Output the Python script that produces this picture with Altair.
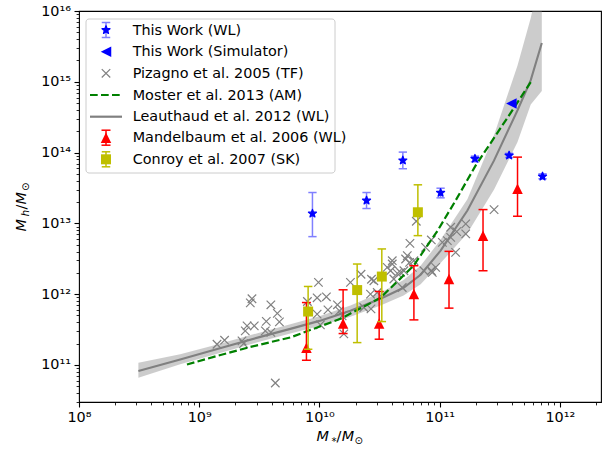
import math

import altair as alt
import numpy as np
import pandas as pd

# ------------------------------------------------------------------
# Data: all masses stored as log10(M / M_sun)
# ------------------------------------------------------------------

# This Work, weak lensing (with 1-sigma range on halo mass)
wl_log_mstar = [9.942, 10.392, 10.694, 11.008, 11.294, 11.578, 11.856]
wl_log_mh = [13.139, 13.323, 13.890, 13.432, 13.914, 13.960, 13.663]
wl_log_mh_lo = [12.813, 13.210, 13.772, 13.361, 13.870, 13.930, 13.630]
wl_log_mh_hi = [13.436, 13.436, 14.007, 13.497, 13.950, 13.990, 13.700]

# This Work, simulator
sim_log_mstar = [11.597]
sim_log_mh = [14.693]

# Pizagno et al. 2005, Tully-Fisher
piz_log_mstar = [
    9.148, 9.211, 9.356, 9.369, 9.383, 9.398, 9.458, 9.439, 9.425, 9.596,
    9.650, 9.667, 9.558, 9.596, 9.550, 9.633, 9.992, 9.900, 9.981, 10.058,
    10.071, 10.150, 10.167, 9.981, 10.008, 10.203, 10.258, 10.346, 10.433, 10.429,
    10.425, 10.369, 10.564, 10.606, 10.592, 10.648, 10.750, 10.717, 10.786, 10.939,
    10.453, 10.481, 10.619, 10.675, 10.731, 10.606, 10.806, 10.753, 10.883, 10.931,
    11.023, 11.092, 11.142, 11.217, 11.217, 11.092, 11.133, 10.967, 10.931, 10.869,
    11.453, 10.703, 10.189, 11.064, 10.689, 10.773,
]
piz_log_mh = [
    11.293, 11.350, 11.340, 11.302, 11.482, 11.552, 11.552, 11.935, 11.878, 11.850,
    11.729, 11.609, 11.616, 11.460, 11.482, 10.745, 12.166, 11.897, 11.949, 11.963,
    11.779, 11.850, 11.765, 11.718, 11.567, 11.439, 12.166, 12.282, 12.211, 11.793,
    12.001, 11.812, 12.378, 12.426, 12.331, 12.293, 12.449, 12.497, 12.473, 12.307,
    12.190, 12.024, 12.214, 12.307, 12.544, 12.473, 13.030, 12.718, 12.661, 12.766,
    12.732, 12.945, 12.884, 12.993, 12.851, 12.803, 12.591, 12.378, 12.331, 12.331,
    13.195, 12.331, 11.694, 12.756, 12.095, 12.378,
]

# Moster et al. 2013, abundance matching
moster_log_mstar = [8.898, 9.150, 9.425, 9.758, 10.175, 10.508, 10.783, 10.983,
                    11.133, 11.300, 11.567, 11.758]
moster_log_mh = [11.007, 11.128, 11.255, 11.389, 11.652, 11.949, 12.402, 12.898,
                 13.323, 13.819, 14.499, 14.994]

# Leauthaud et al. 2012, weak lensing (relation and uncertainty band)
leau_log_mstar = [8.494, 8.842, 9.150, 9.508, 9.758, 10.000, 10.258, 10.508,
                  10.700, 10.842, 11.008, 11.231, 11.453, 11.648, 11.758, 11.850]
leau_log_mh = [10.915, 11.078, 11.227, 11.397, 11.510, 11.623, 11.765, 11.935,
               12.091, 12.275, 12.615, 13.181, 13.890, 14.598, 15.023, 15.547]
leau_log_mh_hi = [11.03, 11.15, 11.29, 11.46, 11.575, 11.69, 11.84, 12.02,
                  12.20, 12.40, 12.77, 13.34, 14.25, 15.23, 15.90, 16.60]
leau_log_mh_lo = [10.82, 11.01, 11.16, 11.33, 11.445, 11.55, 11.68, 11.84,
                  11.98, 12.14, 12.44, 12.86, 13.48, 14.15, 14.68, 14.87]

# Mandelbaum et al. 2006, weak lensing
mand_log_mstar = [9.892, 10.197, 10.497, 10.786, 11.078, 11.361, 11.648]
mand_log_mh = [11.245, 11.585, 11.585, 12.001, 12.214, 12.827, 13.489]
mand_log_mh_lo = [11.067, 11.444, 11.364, 11.637, 11.803, 12.331, 13.101]
mand_log_mh_hi = [11.882, 12.062, 12.038, 12.402, 12.605, 13.195, 13.936]

# Conroy et al. 2007, satellite kinematics
con_log_mstar = [9.906, 10.314, 10.519, 10.819]
con_log_mh = [11.755, 12.058, 12.249, 13.157]
con_log_mh_lo = [11.222, 11.316, 11.613, 12.827]
con_log_mh_hi = [12.109, 12.426, 12.639, 13.545]

legend_labels = [
    "This Work (WL)",
    "This Work (Simulator)",
    "Pizagno et al. 2005 (TF)",
    "Moster et al. 2013 (AM)",
    "Leauthaud et al. 2012 (WL)",
    "Mandelbaum et al. 2006 (WL)",
    "Conroy et al. 2007 (SK)",
]

# Axis decades
x_decades = [8, 9, 10, 11, 12]
y_decades = [11, 12, 13, 14, 15, 16]
X_DOMAIN = [1e8, 2.2e12]
Y_DOMAIN = [3e10, 1e16]

# ------------------------------------------------------------------
# Styling
# ------------------------------------------------------------------
FONT = "DejaVu Sans"
FS = 14.4
BLUE = "#0000ff"
BLUE_ERR = "#8080ff"
RED = "#ff0000"
OLIVE = "#bfbf00"
GRAY = "#808080"
GREEN = "#008000"

W, H = 522, 391

SUP = str.maketrans("0123456789-", "⁰¹²³⁴⁵⁶⁷⁸⁹⁻")
MAJOR = "abs(log(datum.value) / LN10 - round(log(datum.value) / LN10)) < 1e-6"


def dex(values):
    return 10.0 ** np.asarray(values, dtype=float)


def tick_values(lo_dec, hi_dec, domain):
    vals = []
    for d in range(lo_dec, hi_dec + 1):
        for m in range(1, 10):
            v = float(m) * 10.0 ** d
            if domain[0] * 0.999 <= v <= domain[1] * 1.001:
                vals.append(v)
    return vals


def label_expr(decades):
    r = "round(log(datum.value) / LN10)"
    chain = "''"
    for d in reversed(decades):
        chain = f"{r} == {d} ? '10{str(d).translate(SUP)}' : {chain}"
    return f"{MAJOR} ? ({chain}) : ''"


def make_axis(values, decades):
    return alt.Axis(
        values=values,
        labelExpr=label_expr(decades),
        tickSize={"condition": {"test": MAJOR, "value": 5.0}, "value": 2.9},
        tickWidth={"condition": {"test": MAJOR, "value": 1.1}, "value": 0.85},
        tickColor="black",
        domain=False,
        grid=False,
        labelFont=FONT,
        labelFontSize=FS,
        labelColor="black",
        labelPadding=3.5,
        labelOverlap=False,
        labelFlush=False,
        title=None,
    )


X_AXIS = make_axis(tick_values(8, 12, X_DOMAIN), x_decades)
Y_AXIS = make_axis(tick_values(10, 16, Y_DOMAIN), y_decades)
X_SCALE = alt.Scale(type="log", domain=X_DOMAIN, nice=False)
Y_SCALE = alt.Scale(type="log", domain=Y_DOMAIN, nice=False)


def X(field):
    return alt.X(f"{field}:Q", scale=X_SCALE, axis=X_AXIS)


def Y(field):
    return alt.Y(f"{field}:Q", scale=Y_SCALE, axis=Y_AXIS)


def star_path(inner=0.42):
    pts = []
    for i in range(10):
        ang = math.radians(-90 + 36 * i)
        r = 1.0 if i % 2 == 0 else inner
        pts.append(f"{r * math.cos(ang):.3f},{r * math.sin(ang):.3f}")
    return "M" + "L".join(pts) + "Z"


STAR = star_path()
TRI_UP = "M0,-1L-1,1L1,1Z"
TRI_LEFT = "M-1,0L1,-1L1,1Z"
CROSS = "M-1,-1L1,1M-1,1L1,-1"


def errorbars(df, color, cap, width=1.5):
    bar = alt.Chart(df).mark_rule(color=color, strokeWidth=width).encode(
        x=X("mstar"), y=Y("lo"), y2="hi")
    lo = alt.Chart(df).mark_tick(orient="horizontal", color=color, size=cap,
                                 thickness=width, opacity=1).encode(x=X("mstar"), y=Y("lo"))
    hi = alt.Chart(df).mark_tick(orient="horizontal", color=color, size=cap,
                                 thickness=width, opacity=1).encode(x=X("mstar"), y=Y("hi"))
    return [bar, lo, hi]


def point_mark(df, shape, color, size, filled=True, stroke_width=0.0):
    if filled:
        kw = dict(shape=shape, filled=True, fill=color, size=size, opacity=1)
        if stroke_width:
            kw.update(stroke=color, strokeWidth=stroke_width, strokeJoin="round")
        else:
            kw.update(strokeWidth=0)
        return alt.Chart(df).mark_point(**kw)
    return alt.Chart(df).mark_point(shape=shape, filled=False, color=color,
                                    size=size, opacity=1, strokeWidth=stroke_width)


def symbols(df, shape, color, size, filled=True, stroke_width=0.0):
    return point_mark(df, shape, color, size, filled, stroke_width).encode(
        x=X("mstar"), y=Y("mh"))


# ------------------------------------------------------------------
# Tables
# ------------------------------------------------------------------
wl = pd.DataFrame({"mstar": dex(wl_log_mstar), "mh": dex(wl_log_mh),
                   "lo": dex(wl_log_mh_lo), "hi": dex(wl_log_mh_hi)})
sim = pd.DataFrame({"mstar": dex(sim_log_mstar), "mh": dex(sim_log_mh)})
piz = pd.DataFrame({"mstar": dex(piz_log_mstar), "mh": dex(piz_log_mh)})
moster = pd.DataFrame({"mstar": dex(moster_log_mstar), "mh": dex(moster_log_mh)})
leau = pd.DataFrame({"mstar": dex(leau_log_mstar), "mh": dex(leau_log_mh),
                     "lo": dex(leau_log_mh_lo), "hi": dex(leau_log_mh_hi)})
mand = pd.DataFrame({"mstar": dex(mand_log_mstar), "mh": dex(mand_log_mh),
                     "lo": dex(mand_log_mh_lo), "hi": dex(mand_log_mh_hi)})
con = pd.DataFrame({"mstar": dex(con_log_mstar), "mh": dex(con_log_mh),
                    "lo": dex(con_log_mh_lo), "hi": dex(con_log_mh_hi)})

# ------------------------------------------------------------------
# Data layers
# ------------------------------------------------------------------
layers = []

layers.append(alt.Chart(leau).mark_area(color=GRAY, opacity=0.4, clip=True, orient="vertical")
              .encode(x=X("mstar"), y=Y("lo"), y2="hi"))
layers.append(alt.Chart(leau).mark_line(color=GRAY, strokeWidth=2.1, clip=True)
              .encode(x=X("mstar"), y=Y("mh")))
layers.append(symbols(piz, CROSS, GRAY, 72, filled=False, stroke_width=1.2))
layers.append(alt.Chart(moster).mark_line(color=GREEN, strokeWidth=2.2, strokeDash=[7.7, 3.3], clip=True)
              .encode(x=X("mstar"), y=Y("mh")))
layers += errorbars(mand, RED, 9, 1.5)
layers.append(symbols(mand, TRI_UP, RED, 110))
layers += errorbars(con, OLIVE, 8.5, 1.5)
layers.append(symbols(con, "square", OLIVE, 100))
layers += errorbars(wl, BLUE_ERR, 8.3, 1.5)
layers.append(symbols(wl, STAR, BLUE, 70, stroke_width=1.3))
layers.append(symbols(sim, TRI_LEFT, BLUE, 110))

# ------------------------------------------------------------------
# Legend (pixel layout inside the plot area)
# ------------------------------------------------------------------
one = pd.DataFrame({"k": [0]})
LEG_BOX = (7, 256, 8, 162)
LEG_ROWS = [19, 40.7, 62.3, 84, 105.7, 126.7, 148.3]
HX0, HX1, HXC, TX = 11, 43, 27, 53.7

layers.append(alt.Chart(one).mark_rect(fill="white", fillOpacity=0.8, stroke="#cccccc",
                                       strokeWidth=1, cornerRadius=3)
              .encode(x=alt.value(LEG_BOX[0]), x2=alt.value(LEG_BOX[1]),
                      y=alt.value(LEG_BOX[2]), y2=alt.value(LEG_BOX[3])))


def leg_errbar(row, color, cap=8.5):
    out = [alt.Chart(one).mark_rule(color=color, strokeWidth=1.5)
           .encode(x=alt.value(HXC), y=alt.value(row - 7.5), y2=alt.value(row + 7.5))]
    for dy in (-7.5, 7.5):
        out.append(alt.Chart(one).mark_rule(color=color, strokeWidth=1.5)
                   .encode(x=alt.value(HXC - cap / 2), x2=alt.value(HXC + cap / 2),
                           y=alt.value(row + dy)))
    return out


def leg_symbol(row, shape, color, size, filled=True, stroke_width=0.0):
    return point_mark(one, shape, color, size, filled, stroke_width).encode(
        x=alt.value(HXC), y=alt.value(row))


def leg_line(row, color, dash=None):
    kw = dict(color=color, strokeWidth=2.2)
    if dash:
        kw["strokeDash"] = dash
    return (alt.Chart(one).mark_rule(**kw)
            .encode(x=alt.value(HX0), x2=alt.value(HX1), y=alt.value(row)))


r = LEG_ROWS
layers += leg_errbar(r[0], BLUE_ERR)
layers.append(leg_symbol(r[0], STAR, BLUE, 70, stroke_width=1.3))
layers.append(leg_symbol(r[1], TRI_LEFT, BLUE, 110))
layers.append(leg_symbol(r[2], CROSS, GRAY, 72, filled=False, stroke_width=1.2))
layers.append(leg_line(r[3], GREEN, [7.7, 3.3]))
layers.append(leg_line(r[4], GRAY))
layers += leg_errbar(r[5], RED, 9)
layers.append(leg_symbol(r[5], TRI_UP, RED, 110))
layers += leg_errbar(r[6], OLIVE)
layers.append(leg_symbol(r[6], "square", OLIVE, 100))

for row, label in zip(LEG_ROWS, legend_labels):
    layers.append(alt.Chart(one).mark_text(text=label, align="left", baseline="middle",
                                           font=FONT, fontSize=FS, color="black")
                  .encode(x=alt.value(TX), y=alt.value(row + 0.5)))


# ------------------------------------------------------------------
# Axis titles: M_*/M_sun and M_h/M_sun with subscripts
# ------------------------------------------------------------------
def piece(txt, x, y, size=FS, italic=False, angle=0):
    kw = dict(text=txt, align="left", baseline="alphabetic", font=FONT,
              fontSize=size, color="black")
    if italic:
        kw["fontStyle"] = "italic"
    if angle:
        kw["angle"] = angle
    return alt.Chart(one).mark_text(**kw).encode(x=alt.value(x), y=alt.value(y))


SUB = FS * 0.7
# x title
layers += [
    piece("M", 237.5, 430, italic=True),
    piece("*", 252.6, 433.5, size=SUB),
    piece("/", 257.6, 430),
    piece("M", 262.7, 430, italic=True),
    piece("⊙", 275.5, 432.5, size=SUB),
]
# y title (rotated, reading upward)
layers += [
    piece("M", -53, 220.5, italic=True, angle=270),
    piece("h", -50.5, 205.3, size=SUB, italic=True, angle=270),
    piece("/", -53, 198.6, angle=270),
    piece("M", -53, 193.4, italic=True, angle=270),
    piece("⊙", -50.5, 180, size=SUB, angle=270),
]

chart = (
    alt.layer(*layers)
    .properties(
        width=W,
        height=H,
        autosize=alt.AutoSizeParams(type="none"),
        padding={"left": 79, "top": 11, "right": 5, "bottom": 48},
        background="white",
    )
    .configure_view(stroke="black", strokeWidth=1.1)
)

chart.save("out.html", embed_options={"renderer": "svg", "actions": False})
